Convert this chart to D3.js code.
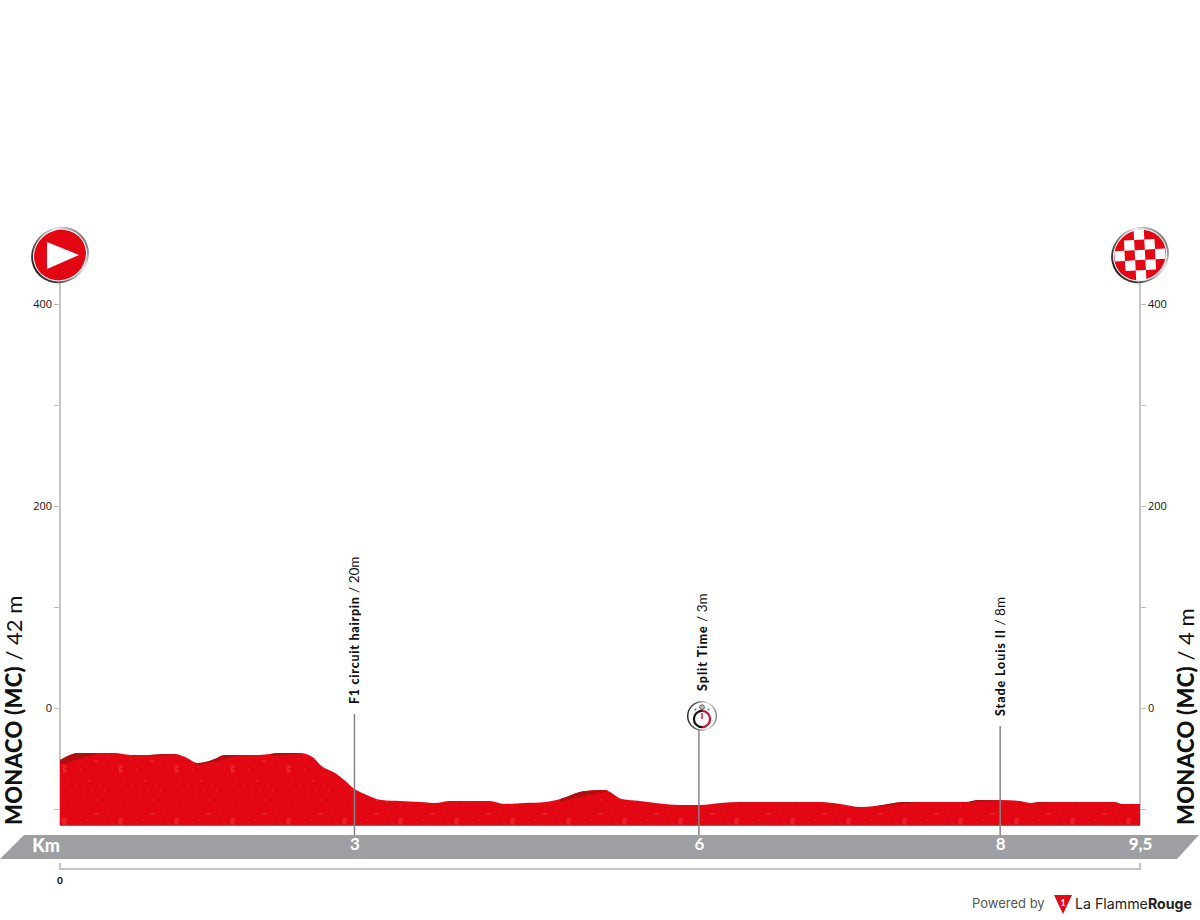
<!DOCTYPE html>
<html>
<head>
<meta charset="utf-8">
<script src="https://cdn.jsdelivr.net/npm/d3@7"></script>
<style>
    html, body { margin: 0; padding: 0; background: #fff; }
    svg { display: block; }
    text { font-family: Lato, "Open Sans", sans-serif; }
</style>
</head>
<body>
<div id="chart"></div>
<script>
// Profile (km / metres on the printed axis)
const profileKm = [0, 0.09, 0.15, 0.48, 0.62, 0.79, 0.92, 1.01, 1.10, 1.21, 1.28, 1.36, 1.45, 1.58, 1.76, 1.94, 2.11, 2.22, 2.30, 2.42, 2.51, 2.59, 2.68, 2.83, 2.99, 3.17, 3.30, 3.43, 3.78, 3.91, 4.09, 4.27, 4.40, 4.62, 4.79, 4.94, 5.10, 5.45, 5.63, 5.81, 5.98, 6.69, 6.86, 7.04, 7.17, 7.43, 7.96, 8.09, 8.27, 8.44, 8.55, 8.62, 9.28, 9.34, 9.5];
const profileElev = [-51.5, -46.5, -44.6, -44.6, -46.5, -46.5, -45.5, -45.5, -48.5, -54.5, -53.5, -50.5, -46.5, -46.5, -46.5, -44.6, -44.6, -48.5, -57.4, -64.4, -72.3, -80.2, -85.1, -91.1, -92.1, -93.1, -94.1, -92.1, -92.1, -95, -94.1, -93.1, -90.1, -82.2, -81.2, -90.1, -92.1, -96, -96, -94.1, -93.1, -93.1, -95, -98, -97, -93.1, -93.1, -91.1, -91.1, -92.1, -94.1, -93.1, -93.1, -95, -95];
const baseElev = -116;

// Darker climbing faces: start/end km and the elevation of their lower edge
const shadeStartKm = [0, 0.79, 1.21, 1.86, 4.40, 7.20, 8.00, 8.55];
const shadeEndKm = [0.32, 1.01, 1.58, 2.11, 4.82, 7.55, 8.27, 8.75];
const shadeStartElev = [-56, -47.5, -57, -47.5, -92.5, -97.5, -94, -94.5];
const shadeEndElev = [-45.5, -46, -46.5, -45, -82, -93.1, -91.1, -93.1];

const yTicks = [-100, 0, 100, 200, 300, 400];
const yLabels = ["", "0", "", "200", "", "400"];

const passKm = [2.59, 5.62, 8.27];
const passKmLabels = ["3", "6", "8"];
const passNames = ["F1 circuit hairpin", "Split Time", "Stade Louis II"];
const passHeights = [" / 20m", " / 3m", " / 8m"];

const startName = "MONACO (MC)";
const startHeight = " / 42 m";
const finishName = "MONACO (MC)";
const finishHeight = " / 4 m";
const distance = 9.5;

const w = 1200, h = 920;
const red = "#e30613";

const svg = d3.select("#chart").append("svg")
    .attr("width", w)
    .attr("height", h)
    .attr("viewBox", `0 0 ${w} ${h}`);

const xScale = d3.scaleLinear().domain([0, distance]).range([60, 1140]);
const yScale = d3.scaleLinear().domain([0, 400]).range([708, 304]);

// Speckled texture of the fill
const defs = svg.append("defs");
const pattern = defs.append("pattern")
    .attr("id", "speckle")
    .attr("patternUnits", "userSpaceOnUse")
    .attr("x", 60).attr("y", 741)
    .attr("width", 56).attr("height", 53);
pattern.append("rect").attr("width", 56).attr("height", 53).attr("fill", red);
pattern.append("path")
    .attr("d", "M2,25 h4 v2 h-3 v2 h3 v2 h-3 M34,20 h5 M14,18 h1 M22,16 h1 M26,26 h1 M30,30 h1 M44,24 h1 M48,16 h1 M8,40 h1 M18,38 h1 M28,40 h2 M40,44 h1 M50,38 h1 M14,8 h1 M36,6 h2 M46,8 h1 M24,48 h1 M10,50 h1 M4,12 h1 M20,28 h1 M38,34 h1 M52,28 h1 M32,50 h1 M44,50 h1 M16,44 h1 M24,4 h1")
    .attr("fill", "none")
    .attr("stroke", "#f2525a")
    .attr("stroke-width", 1)
    .attr("opacity", 0.6);

const ringGradient = defs.append("linearGradient")
    .attr("id", "ring")
    .attr("x1", 0).attr("y1", 0.5).attr("x2", 1).attr("y2", 0.5);
ringGradient.append("stop").attr("offset", "0%").attr("stop-color", "#1f1f1f");
ringGradient.append("stop").attr("offset", "35%").attr("stop-color", "#6d6d6d");
ringGradient.append("stop").attr("offset", "70%").attr("stop-color", "#e6e6e6");
ringGradient.append("stop").attr("offset", "100%").attr("stop-color", "#7a7a7a");

// Altitude axes
function styleAxis(g) {
    g.select(".domain").remove();
    g.selectAll("line").attr("stroke", "#bdbdbd").attr("stroke-width", 1);
    g.selectAll("text").attr("fill", "#111").style("font-size", "11px").style("font-family", "'Open Sans', sans-serif");
}
const yFormat = (d) => yLabels[yTicks.indexOf(d)];

svg.append("g")
    .attr("transform", "translate(60,0)")
    .call(d3.axisLeft(yScale).tickValues(yTicks).tickFormat(yFormat).tickSize(6).tickPadding(2))
    .call(styleAxis);
svg.append("g")
    .attr("transform", "translate(1140,0)")
    .call(d3.axisRight(yScale).tickValues(yTicks).tickFormat(yFormat).tickSize(6).tickPadding(2))
    .call(styleAxis);

[0, distance].forEach((km) => {
    svg.append("line")
        .attr("x1", xScale(km)).attr("x2", xScale(km))
        .attr("y1", 280).attr("y2", yScale(baseElev))
        .attr("stroke", "#c6c6c6")
        .attr("stroke-width", 2);
});

// Profile
const profile = profileKm.map((km, i) => ({ km, elev: profileElev[i] }));
const area = d3.area()
    .curve(d3.curveMonotoneX)
    .x((d) => xScale(d.km))
    .y0(yScale(baseElev))
    .y1((d) => yScale(d.elev));

svg.append("path")
    .datum(profile)
    .attr("d", area)
    .attr("fill", "url(#speckle)");

defs.append("clipPath").attr("id", "profileClip")
    .append("path").datum(profile).attr("d", area);

// Dark faces: everything above a straight lower edge, clipped to the profile
const shades = svg.append("g").attr("clip-path", "url(#profileClip)");
shadeStartKm.forEach((start, i) => {
    const end = shadeEndKm[i];
    const pts = [
        [xScale(start), yScale(shadeStartElev[i])],
        [xScale(end), yScale(shadeEndElev[i])],
        [xScale(end), yScale(0)],
        [xScale(start), yScale(0)]
    ];
    shades.append("path")
        .attr("d", d3.line()(pts) + "Z")
        .attr("fill", "#b00d10");
});

svg.append("line")
    .attr("x1", xScale(0)).attr("x2", xScale(distance))
    .attr("y1", yScale(baseElev)).attr("y2", yScale(baseElev))
    .attr("stroke", "#b9202a")
    .attr("stroke-width", 1.2);

// Km band
svg.append("path")
    .attr("d", "M0,859 L24,835 L1199,835 L1177,859 Z")
    .attr("fill", "#9d9fa2");

// Passage lines and their labels
const labelBottom = [704, 691, 716];
const lineTop = [714, 730, 726];
const labelOffset = [5, 8, 5];
const labelSpacing = [0.75, 1, 0.9];

passKm.forEach((km, i) => {
    svg.append("line")
        .attr("x1", xScale(km)).attr("x2", xScale(km))
        .attr("y1", lineTop[i]).attr("y2", 835)
        .attr("stroke", "#858585")
        .attr("stroke-width", 1.5);

    const label = svg.append("text")
        .attr("transform", `translate(${xScale(km) + labelOffset[i]},${labelBottom[i]}) rotate(-90)`)
        .style("font-size", "12.5px")
        .attr("fill", "#111");
    label.append("tspan")
        .attr("font-weight", 900)
        .attr("letter-spacing", labelSpacing[i])
        .text(passNames[i]);
    label.append("tspan")
        .attr("font-weight", 400)
        .style("font-size", "13.5px")
        .text(passHeights[i]);
});

// Km labels sitting on the band
const bandKm = [...passKm, distance];
const bandLabels = [...passKmLabels, "9,5"];
const bandAxis = svg.append("g")
    .attr("transform", "translate(0,838)")
    .call(d3.axisBottom(xScale)
        .tickValues(bandKm)
        .tickFormat((d) => bandLabels[bandKm.indexOf(d)])
        .tickSize(0)
        .tickPadding(0));
bandAxis.select(".domain").remove();
bandAxis.selectAll("text")
    .attr("fill", "#fff")
    .style("font-size", "17px")
    .style("font-family", "Lato, sans-serif")
    .style("font-weight", (d) => (d === distance ? 900 : 700));

svg.append("text")
    .attr("x", 60).attr("y", 852)
    .attr("text-anchor", "end")
    .attr("fill", "#fff")
    .style("font-size", "18px")
    .style("font-weight", 900)
    .text("Km");

// Distance bracket under the band
svg.append("path")
    .attr("d", `M${xScale(0)},863 V869 H${xScale(distance)} V863`)
    .attr("fill", "none")
    .attr("stroke", "#c6c6c6")
    .attr("stroke-width", 2.2);
svg.append("text")
    .attr("x", xScale(0)).attr("y", 884)
    .attr("text-anchor", "middle")
    .attr("fill", "#111")
    .style("font-size", "10px")
    .style("font-weight", 900)
    .text("0");

// Start and finish names
function sideLabel(x, name, height) {
    const t = svg.append("text")
        .attr("transform", `translate(${x},825) rotate(-90)`)
        .attr("fill", "#111")
        .style("font-size", "22px");
    t.append("tspan").attr("font-weight", 900).attr("letter-spacing", 0.3).text(name);
    t.append("tspan").attr("font-weight", 400).text(height);
}
sideLabel(22, startName, startHeight);
sideLabel(1194, finishName, finishHeight);

// Start and finish badges
function badge(cx) {
    const g = svg.append("g").attr("transform", `translate(${cx},255)`);
    const tilted = g.append("g").attr("transform", "rotate(-35)");
    tilted.append("ellipse").attr("rx", 29.5).attr("ry", 27.5).attr("fill", "url(#ring)");
    tilted.append("ellipse").attr("rx", 27.5).attr("ry", 25.8).attr("fill", "#fff");
    tilted.append("ellipse").attr("rx", 26.5).attr("ry", 24.8).attr("fill", red);
    return g;
}
badge(xScale(0)).append("path")
    .attr("d", "M-13,-13 L19,0 L-13,14 Z")
    .attr("fill", "#fff");

const finish = badge(xScale(distance));
const checks = finish.append("g").attr("transform", "rotate(-3)");
const cell = 10.2;
d3.range(-2, 3).forEach((row) => {
    d3.range(-2, 3).forEach((col) => {
        if ((row + col + 100) % 2 === 0 && Math.abs(row) + Math.abs(col) <= 2) {
            checks.append("rect")
                .attr("x", col * cell - cell / 2)
                .attr("y", row * cell - cell / 2)
                .attr("width", cell).attr("height", cell)
                .attr("fill", "#fff");
        }
    });
});

// Split time stopwatch
const watch = svg.append("g").attr("transform", "translate(702,716)");
watch.append("circle").attr("r", 15).attr("fill", "url(#ring)");
watch.append("circle").attr("r", 13.6).attr("fill", "#fff");
watch.append("circle").attr("cy", -8.8).attr("r", 2.4).attr("fill", "#bbb").attr("stroke", "#666").attr("stroke-width", 1);
const arc = d3.arc().innerRadius(7).outerRadius(9.2);
watch.append("path").attr("transform", "translate(0,3)").attr("d", arc({ startAngle: 0, endAngle: Math.PI })).attr("fill", "#c8102e");
watch.append("path").attr("transform", "translate(0,3)").attr("d", arc({ startAngle: Math.PI, endAngle: 2 * Math.PI })).attr("fill", "#111");
watch.append("line").attr("y1", -3).attr("y2", 3).attr("stroke", "#e30613").attr("stroke-width", 1.4);
watch.append("circle").attr("cx", -6.5).attr("cy", -6.5).attr("r", 1).attr("fill", "#666");
watch.append("circle").attr("cx", 6.5).attr("cy", -6.5).attr("r", 1).attr("fill", "#666");

// Footer
svg.append("text")
    .attr("x", 972).attr("y", 908)
    .attr("fill", "#555")
    .style("font-family", "Inter, sans-serif")
    .style("font-size", "13px")
    .text("Powered by");
svg.append("path")
    .attr("d", "M1054,895 L1072,895 L1063,914 Z")
    .attr("fill", red);
svg.append("text")
    .attr("x", 1063).attr("y", 906)
    .attr("text-anchor", "middle")
    .attr("fill", "#fff")
    .style("font-size", "9px")
    .style("font-weight", 700)
    .text("1");
const brand = svg.append("text")
    .attr("x", 1075).attr("y", 909)
    .attr("fill", "#222")
    .style("font-family", "Inter, sans-serif")
    .style("font-size", "14.2px");
brand.append("tspan").attr("font-weight", 400).text("La Flamme");
brand.append("tspan").attr("font-weight", 700).text("Rouge");
</script>
</body>
</html>
